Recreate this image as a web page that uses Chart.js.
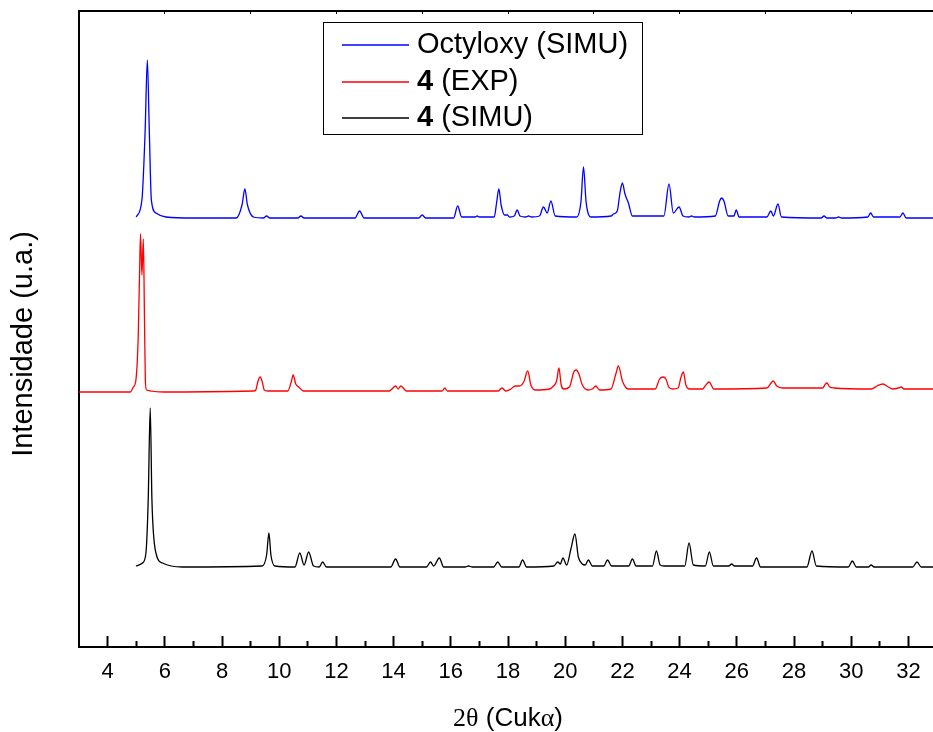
<!DOCTYPE html>
<html>
<head>
<meta charset="utf-8">
<title>XRD – Octyloxy / 4</title>
<script src="https://cdn.jsdelivr.net/npm/chart.js@4.4.1/dist/chart.umd.min.js"></script>
<style>
  html, body { margin: 0; padding: 0; background: #fff; overflow: hidden; }
  #wrap { width: 933px; height: 732px; overflow: hidden; }
</style>
</head>
<body>
<div id="wrap"><canvas id="xrd" width="960" height="732"></canvas></div>
<script>
// ── Data (2θ in degrees, intensity in arbitrary offset units) ──
const octyloxyX = [5.00, 5.20, 5.31, 5.39, 5.46, 5.53, 5.69, 6.04, 7.00,
  8.50, 8.70, 8.80, 8.89, 9.10, 9.45, 9.56, 9.67, 10.65, 10.76, 10.87,
  12.65, 12.81, 12.97, 14.88, 15.00, 15.12, 16.10, 16.24, 16.38, 16.85, 16.92, 17.00,
  17.52, 17.60, 17.68, 17.76, 17.88, 17.98, 18.05, 18.22, 18.32, 18.42, 18.62, 18.72, 18.82,
  19.10, 19.24, 19.37, 19.50, 19.65, 20.40, 20.55, 20.64, 20.73, 20.90,
  21.60, 21.69, 21.82, 21.92, 22.00, 22.09, 22.21, 22.35,
  23.45, 23.63, 23.78, 23.98, 24.12, 24.32, 24.42, 24.52, 25.25, 25.40, 25.47, 25.55, 25.70,
  25.90, 25.98, 26.08, 27.05, 27.19, 27.28, 27.44, 27.56,
  28.95, 29.05, 29.15, 29.46, 29.56, 29.66, 30.58, 30.68, 30.78, 31.70, 31.81, 31.92, 33.00];
const octyloxyY = [430, 447, 514, 587, 514, 447, 434, 430, 429,
  429, 442, 458, 442, 430, 429, 431, 429, 429, 431, 429,
  429, 436, 429, 429, 432, 429, 429, 441, 430, 430, 431, 430,
  430, 444, 458, 442, 432, 432, 430, 431, 437, 431, 430, 431, 430,
  431, 440, 434, 446, 431, 430, 445, 480, 445, 430,
  431, 433, 436, 455, 464, 453, 444, 431,
  431, 463, 434, 440, 431, 430, 431, 430, 431, 446, 449, 446, 431,
  431, 437, 430, 430, 436, 431, 443, 430,
  429, 431, 429, 429, 430, 429, 430, 434, 430, 430, 434, 429, 429];

const exp4X = [3.00, 4.80, 4.90, 4.99, 5.07, 5.12, 5.15, 5.20, 5.25, 5.29, 5.32, 5.36, 6.00,
  9.10, 9.18, 9.26, 9.33, 9.40, 9.48, 9.60,
  10.30, 10.42, 10.49, 10.58, 10.68, 10.85,
  13.85, 14.07, 14.16, 14.25, 14.45, 15.70, 15.79, 15.88, 17.65, 17.79, 17.92,
  18.10, 18.25, 18.40, 18.55, 18.69, 18.80, 18.95,
  19.45, 19.59, 19.70, 19.78, 19.86, 19.95,
  20.15, 20.30, 20.38, 20.48, 20.60, 20.80, 20.95, 21.07, 21.20,
  21.60, 21.78, 21.86, 22.00, 22.20,
  23.15, 23.30, 23.43, 23.52, 23.62, 23.75,
  23.95, 24.05, 24.13, 24.22, 24.35, 24.80, 24.92, 25.03, 25.20,
  27.05, 27.20, 27.27, 27.40, 27.60, 29.00, 29.10, 29.15, 29.25, 29.40,
  30.70, 30.90, 31.11, 31.30, 31.45, 31.65, 31.75, 31.85, 33.00];
const exp4Y = [255, 255, 260, 267, 310, 377, 413, 372, 408, 327, 267, 257, 255,
  256, 257, 266, 270, 266, 257, 256,
  256, 265, 272, 263, 260, 256,
  256, 261, 258, 261, 256, 256, 259, 256, 256, 259, 256,
  258, 261, 261, 265, 276, 262, 257,
  258, 261, 266, 279, 262, 258,
  260, 275, 277, 273, 262, 257, 258, 261, 257,
  258, 274, 281, 266, 258,
  258, 268, 270, 268, 260, 258,
  259, 270, 275, 262, 258, 258, 262, 265, 258,
  259, 264, 266, 261, 259, 259, 263, 264, 260, 259,
  258, 261, 263, 260, 258, 259, 260, 258, 258];

const simu4X = [4.99, 5.22, 5.34, 5.42, 5.49, 5.55, 5.69, 5.92, 6.61,
  9.40, 9.56, 9.64, 9.71, 9.85, 10.55, 10.72, 10.87, 11.03, 11.20, 11.40, 11.52, 11.65,
  13.90, 14.07, 14.22, 15.15, 15.29, 15.40, 15.60, 15.75, 16.50, 16.62, 16.75,
  17.50, 17.64, 17.78, 18.38, 18.51, 18.65,
  19.60, 19.74, 19.83, 19.92, 20.05, 20.20, 20.34, 20.46, 20.60,
  20.70, 20.81, 20.95, 21.35, 21.48, 21.62, 22.22, 22.35, 22.48,
  23.05, 23.19, 23.32, 23.45, 24.18, 24.33, 24.48, 24.90, 25.04, 25.18,
  25.72, 25.82, 25.92, 26.55, 26.69, 26.83, 28.45, 28.63, 28.78,
  29.90, 30.04, 30.18, 30.60, 30.70, 30.80, 32.15, 32.30, 32.45, 33.00];
const simu4Y = [81, 84, 94, 147, 239, 147, 94, 84, 80,
  81, 92, 114, 92, 81, 80, 94, 82, 95, 81, 80, 85, 80,
  80, 88, 80, 80, 85, 81, 89, 80, 80, 81, 80,
  80, 85, 80, 80, 87, 80,
  81, 85, 83, 89, 82, 98, 113, 90, 83,
  82, 87, 81, 81, 87, 81, 81, 88, 81,
  81, 96, 82, 81, 81, 104, 82, 81, 95, 81,
  81, 83, 81, 81, 89, 80, 80, 96, 81,
  80, 86, 80, 80, 82, 80, 80, 85, 80, 80];

const xMin = 3, xMax = 33;
const yMin = 0, yMax = 636;
const majorTicks = [4, 6, 8, 10, 12, 14, 16, 18, 20, 22, 24, 26, 28, 30, 32];
const minorTicks = [5, 7, 9, 11, 13, 15, 17, 19, 21, 23, 25, 27, 29, 31, 33];
const topTicks = [6, 9, 12, 15, 18, 21, 24, 27, 30, 33];

const seriesNames = ['Octyloxy (SIMU)', '4 (EXP)', '4 (SIMU)'];
const seriesColors = ['#0000ff', '#ff0000', '#000000'];

const SANS = '"Liberation Sans", Arial, sans-serif';
const SERIF = '"Liberation Serif", "Times New Roman", serif';

const allBottomTicks = majorTicks.concat(minorTicks).sort((a, b) => a - b);
const isMajor = v => majorTicks.includes(v);

function toPoints(xv, yv) {
    return xv.map((x, i) => ({ x, y: yv[i] }));
}

// ── titles and inset legend ──
const labelPlugin = {
    id: 'labels',
    afterDraw(chart) {
        const { ctx } = chart;
        ctx.save();
        ctx.fillStyle = '#000';
        ctx.strokeStyle = '#000';

        ctx.save();
        ctx.translate(24, 344);
        ctx.rotate(-Math.PI / 2);
        ctx.font = '29px ' + SANS;
        ctx.textAlign = 'center';
        ctx.textBaseline = 'middle';
        ctx.fillText('Intensidade (u.a.)', 0, 0);
        ctx.restore();

        // 2θ (Cukα) with serif Greek parts
        const parts = [['2θ', SERIF], [' (Cuk', SANS], ['α', SERIF], [')', SANS]];
        ctx.textBaseline = 'middle';
        ctx.textAlign = 'left';
        let total = 0;
        parts.forEach(([t, f]) => { ctx.font = '26px ' + f; total += ctx.measureText(t).width; });
        let tx = 508 - total / 2;
        parts.forEach(([t, f]) => {
            ctx.font = '26px ' + f;
            ctx.fillText(t, tx, 719);
            tx += ctx.measureText(t).width;
        });

        ctx.lineWidth = 1;
        ctx.strokeRect(323.5, 22.5, 319, 112);
        const rows = [45, 82, 118];
        rows.forEach((ry, i) => {
            ctx.strokeStyle = seriesColors[i];
            ctx.lineWidth = 1.3;
            ctx.beginPath();
            ctx.moveTo(342, ry);
            ctx.lineTo(409, ry);
            ctx.stroke();
            let lx = 417;
            const name = seriesNames[i];
            if (name.startsWith('4')) {
                ctx.font = 'bold 29px ' + SANS;
                ctx.fillText('4', lx, ry);
                lx += ctx.measureText('4').width;
                ctx.font = '29px ' + SANS;
                ctx.fillText(name.slice(1), lx, ry);
            } else {
                ctx.font = '29px ' + SANS;
                ctx.fillText(name, lx, ry);
            }
        });
        ctx.restore();
    }
};

const lineStyle = color => ({
    borderColor: color,
    backgroundColor: color,
    borderWidth: 1.3,
    pointRadius: 0,
    cubicInterpolationMode: 'monotone',
    fill: false
});

new Chart(document.getElementById('xrd'), {
    type: 'line',
    data: {
        datasets: [
            { label: seriesNames[0], data: toPoints(octyloxyX, octyloxyY), ...lineStyle(seriesColors[0]) },
            { label: seriesNames[1], data: toPoints(exp4X, exp4Y), ...lineStyle(seriesColors[1]) },
            { label: seriesNames[2], data: toPoints(simu4X, simu4Y), ...lineStyle(seriesColors[2]) }
        ]
    },
    options: {
        responsive: false,
        animation: false,
        devicePixelRatio: 1,
        layout: { padding: { top: 0, right: 21, left: 0, bottom: 0 } },
        plugins: { legend: { display: false }, tooltip: { enabled: false } },
        scales: {
            x: {
                type: 'linear',
                position: 'bottom',
                min: xMin, max: xMax,
                afterBuildTicks: s => { s.ticks = allBottomTicks.map(v => ({ value: v })); },
                afterFit: s => { s.height = 85; },
                // negative tick length -> ticks point up into the plot
                grid: {
                    display: true,
                    drawOnChartArea: false,
                    drawTicks: true,
                    tickLength: -11,
                    tickWidth: 2,
                    tickColor: '#000',
                    tickBorderDash: ctx => (isMajor(ctx.tick && ctx.tick.value) ? [] : [7, 100])
                },
                border: { display: true, color: '#000', width: 2 },
                ticks: {
                    color: '#000',
                    padding: 23,
                    maxRotation: 0,
                    autoSkip: false,
                    font: { family: SANS, size: 22 },
                    callback: v => (isMajor(v) ? String(v) : '')
                }
            },
            xTop: {
                type: 'linear',
                position: 'top',
                min: xMin, max: xMax,
                afterBuildTicks: s => { s.ticks = topTicks.map(v => ({ value: v })); },
                afterFit: s => { s.height = 11; },
                grid: {
                    display: true,
                    drawOnChartArea: false,
                    drawTicks: true,
                    tickLength: -3,
                    tickWidth: 1,
                    tickColor: '#000'
                },
                border: { display: true, color: '#000', width: 2 },
                ticks: { display: false }
            },
            y: {
                type: 'linear',
                min: yMin, max: yMax,
                afterFit: s => { s.width = 79; },
                grid: { display: false, drawTicks: false },
                border: { display: true, color: '#000', width: 2 },
                ticks: { display: false }
            }
        }
    },
    plugins: [labelPlugin]
});
</script>
</body>
</html>
